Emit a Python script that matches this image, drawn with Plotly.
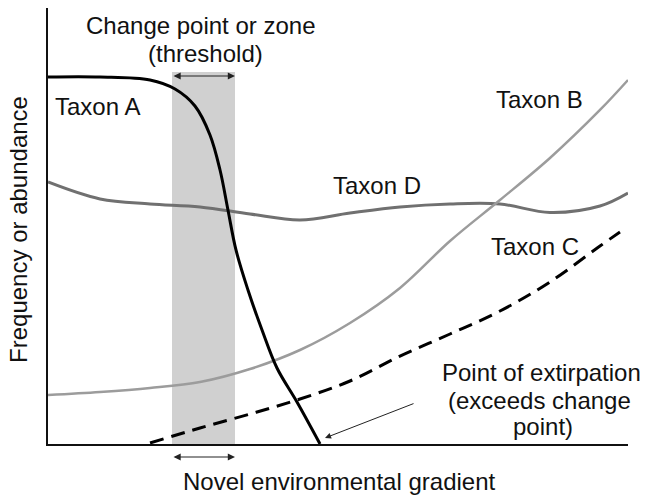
import plotly.graph_objects as go

# Environmental gradient (0-100) and relative frequency/abundance (0-100)
taxon_a_x = [0, 8.97, 17.59, 21.90, 25.34, 27.93, 29.66, 31.03, 32.41, 34.48, 36.90, 39.48, 42.93, 46.90]
taxon_a_y = [84.17, 84.17, 83.49, 81.42, 77.52, 70.87, 62.84, 53.67, 44.50, 35.32, 26.15, 17.43, 9.63, 0]

taxon_b_x = [0, 8.97, 17.59, 26.21, 34.83, 43.45, 52.07, 60.69, 69.31, 77.93, 86.55, 95.17, 100]
taxon_b_y = [11.24, 11.93, 12.84, 14.22, 17.20, 21.56, 27.75, 35.78, 46.56, 55.96, 65.60, 76.61, 83.49]

taxon_c_x = [17.59, 26.21, 34.83, 43.45, 52.07, 60.69, 69.31, 77.93, 86.55, 95.17, 98.62]
taxon_c_y = [0.23, 3.67, 6.88, 10.32, 14.45, 20.18, 25.23, 30.50, 37.16, 45.41, 48.62]

taxon_d_x = [0, 8.97, 17.59, 26.21, 34.83, 43.45, 52.07, 60.69, 69.31, 77.93, 86.55, 95.17, 100]
taxon_d_y = [60.09, 56.19, 55.05, 54.36, 52.75, 51.38, 52.98, 54.36, 55.05, 55.05, 53.10, 54.59, 57.57]

zone_x = [21.38, 32.24]   # change point / zone (threshold)
zone_top = 85.32

FONT = "Arial, Liberation Sans, sans-serif"
FS = 24
PLOT_W = 580  # plot-area width in px

fig = go.Figure()

fig.add_shape(type="rect", x0=zone_x[0], x1=zone_x[1], y0=0, y1=zone_top,
              xref="x", yref="y", fillcolor="#d0d0d0", line=dict(width=0), layer="below")

fig.add_trace(go.Scatter(x=taxon_d_x, y=taxon_d_y, mode="lines",
                         line=dict(color="#707070", width=3, shape="spline", smoothing=1.0),
                         hoverinfo="skip"))
fig.add_trace(go.Scatter(x=taxon_b_x, y=taxon_b_y, mode="lines",
                         line=dict(color="#9c9c9c", width=2.5, shape="spline", smoothing=1.0),
                         hoverinfo="skip"))
fig.add_trace(go.Scatter(x=taxon_c_x, y=taxon_c_y, mode="lines",
                         line=dict(color="#000000", width=3, dash="14px,8px", shape="spline", smoothing=1.0),
                         hoverinfo="skip"))
fig.add_trace(go.Scatter(x=taxon_a_x, y=taxon_a_y, mode="lines",
                         line=dict(color="#000000", width=3, shape="spline", smoothing=1.0),
                         hoverinfo="skip"))

ann = []
def label(txt, x, y, size=FS, **kw):
    # positions given in the 0-100 plot units, placed relative to the plot area
    ann.append(dict(text=txt, x=x / 100, y=y / 100, xref="paper", yref="paper", showarrow=False,
                    font=dict(family=FONT, size=size, color="#111111"),
                    xanchor="center", yanchor="middle", **kw))

label("Change point or zone", 26.4, 96.0)
label("(threshold)", 27.1, 89.6)
label("Taxon A", 8.6, 77.3)
label("Taxon B", 84.8, 78.9)
label("Taxon D", 56.7, 59.4)
label("Taxon C", 83.9, 45.2)
label("Point of extirpation", 85.0, 16.3)
label("(exceeds change", 84.8, 9.9)
label("point)", 85.3, 4.0)
label("Novel environmental gradient", 50.2, -8.5)
label("Frequency or abundance", -5.0, 49.1, textangle=-90)

# double-headed arrows marking the zone width
zone_px = (zone_x[1] - zone_x[0]) / 100 * PLOT_W
for yy in (84.4, -2.98):
    ann.append(dict(x=zone_x[1] / 100, y=yy / 100, xref="paper", yref="paper",
                    axref="pixel", ayref="pixel", ax=-zone_px, ay=0,
                    text="", showarrow=True,
                    arrowhead=2, arrowside="end+start", arrowsize=1.2,
                    arrowwidth=1.2, arrowcolor="#222222"))
# arrow to point of extirpation
ann.append(dict(x=47.76, y=1.38, ax=63.28, ay=9.40, xref="x", yref="y",
                axref="x", ayref="y", text="", showarrow=True,
                arrowhead=2, arrowsize=1.2, arrowwidth=1, arrowcolor="#222222"))

fig.update_layout(
    width=645, height=501,
    margin=dict(l=48, r=17, t=8, b=57),
    paper_bgcolor="white", plot_bgcolor="white",
    showlegend=False,
    annotations=ann,
    xaxis=dict(range=[0, 100], showgrid=False, zeroline=False, showticklabels=False,
               ticks="", showline=True, linecolor="#111111", linewidth=2, fixedrange=True),
    yaxis=dict(range=[0, 100], showgrid=False, zeroline=False, showticklabels=False,
               ticks="", showline=True, linecolor="#111111", linewidth=2, fixedrange=True),
)

# remove the default 8px page margin so the figure fills the window exactly
fig.write_html("out.html", config={"displayModeBar": False},
               post_script="document.body.style.margin='0px';document.body.style.overflow='hidden';")
